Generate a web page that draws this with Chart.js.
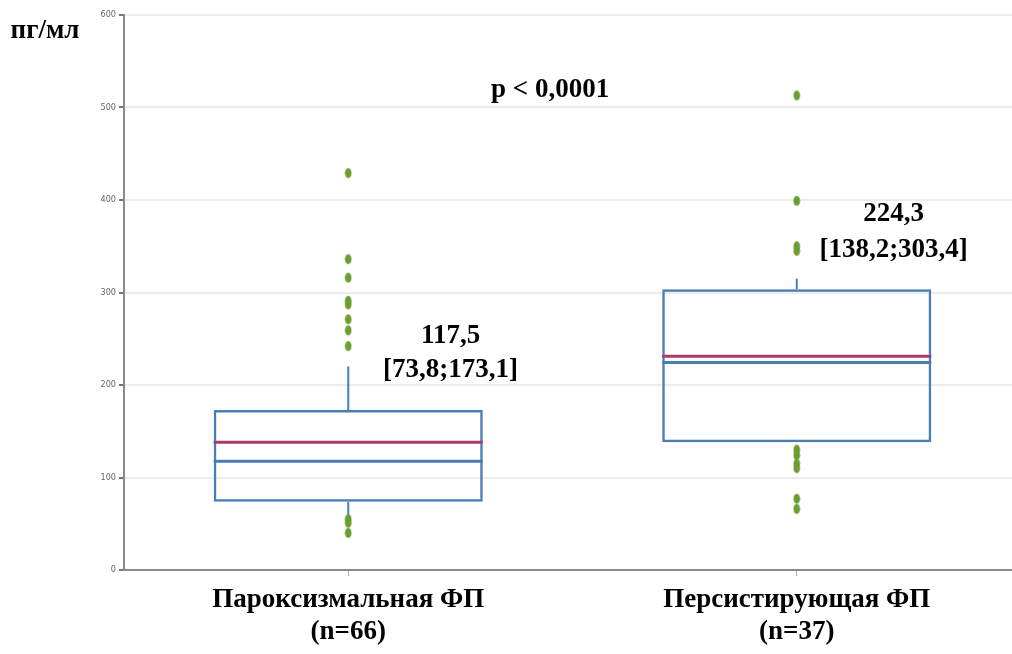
<!DOCTYPE html>
<html>
<head>
<meta charset="utf-8">
<script src="https://cdn.jsdelivr.net/npm/chart.js@4"></script>
<style>
  html, body { margin: 0; padding: 0; background: #fff; overflow: hidden; }
  #wrap { width: 1026px; height: 654px; }
</style>
</head>
<body>
<div id="wrap"><canvas id="boxChart"></canvas></div>
<script>
const categories = [['Пароксизмальная ФП', '(n=66)'], ['Персистирующая ФП', '(n=37)']];
const q1 = [73.8, 138.2];
const median = [117.5, 224.3];
const q3 = [173.1, 303.4];
const mean = [138, 231];
const whiskerLow = [60, 138.2];
const whiskerHigh = [220, 315];
const outliers = [
    [429, 336, 316, 291, 287, 271, 259, 242, 55, 51, 40],
    [513, 399, 350, 345, 130, 124, 115, 110, 77, 66]
];
const yTicks = [0, 100, 200, 300, 400, 500, 600];

const serif = '"Liberation Serif", "Times New Roman", serif';
const boxBlue = '#4b7db5';
const meanColor = '#a83a6c';
const dotGreen = '#6c9d33';

// elongated dot, like in the original
const dot = document.createElement('canvas');
dot.width = 8;
dot.height = 12;
const dctx = dot.getContext('2d');
dctx.fillStyle = dotGreen;
dctx.beginPath();
dctx.ellipse(4, 6, 3.3, 5, 0, 0, Math.PI * 2);
dctx.fill();

const outlierPoints = [];
outliers.forEach((vals, i) => {
    vals.forEach(v => outlierPoints.push({ x: i, y: v }));
});

const boxParts = {
    id: 'boxParts',
    afterDatasetsDraw(chart) {
        const ctx = chart.ctx;
        const y = chart.scales.y;
        const bars = chart.getDatasetMeta(0).data;
        ctx.save();
        bars.forEach((bar, i) => {
            const half = bar.width / 2;
            // whiskers
            ctx.strokeStyle = boxBlue;
            ctx.lineWidth = 2;
            ctx.beginPath();
            ctx.moveTo(bar.x, y.getPixelForValue(q3[i]));
            ctx.lineTo(bar.x, y.getPixelForValue(whiskerHigh[i]));
            ctx.moveTo(bar.x, y.getPixelForValue(q1[i]));
            ctx.lineTo(bar.x, y.getPixelForValue(whiskerLow[i]));
            ctx.stroke();
            // median
            ctx.lineWidth = 3;
            ctx.beginPath();
            ctx.moveTo(bar.x - half, y.getPixelForValue(median[i]));
            ctx.lineTo(bar.x + half, y.getPixelForValue(median[i]));
            ctx.stroke();
            // mean
            ctx.strokeStyle = meanColor;
            ctx.beginPath();
            ctx.moveTo(bar.x - half, y.getPixelForValue(mean[i]));
            ctx.lineTo(bar.x + half, y.getPixelForValue(mean[i]));
            ctx.stroke();
        });
        ctx.restore();
    }
};

const notes = {
    id: 'notes',
    afterDraw(chart) {
        const ctx = chart.ctx;
        const x = chart.scales.x;
        const y = chart.scales.y;
        const step = x.getPixelForValue(1) - x.getPixelForValue(0);
        ctx.save();
        ctx.fillStyle = '#000';
        ctx.font = 'bold 27px ' + serif;
        ctx.textAlign = 'center';
        ctx.textBaseline = 'middle';
        ctx.fillText('пг/мл', 45, 31);
        ctx.fillText('p < 0,0001', x.getPixelForValue(0) + step * 0.45, y.getPixelForValue(519));
        ctx.fillText('117,5', x.getPixelForValue(0) + step * 0.228, y.getPixelForValue(253));
        ctx.fillText('[73,8;173,1]', x.getPixelForValue(0) + step * 0.228, y.getPixelForValue(216));
        ctx.fillText('224,3', x.getPixelForValue(1) + step * 0.216, y.getPixelForValue(385));
        ctx.fillText('[138,2;303,4]', x.getPixelForValue(1) + step * 0.216, y.getPixelForValue(346));
        ctx.restore();
    }
};

const data = {
    labels: categories,
    datasets: [{
        type: 'bar',
        data: categories.map((c, i) => [q1[i], q3[i]]),
        backgroundColor: 'rgba(255,255,255,0)',
        borderColor: boxBlue,
        borderWidth: 2.5,
        borderSkipped: false,
        grouped: false,
        barPercentage: 0.6,
        categoryPercentage: 1,
        order: 2
    }, {
        type: 'scatter',
        xAxisID: 'xPts',
        data: outlierPoints,
        pointStyle: dot,
        order: 1
    }]
};

const options = {
    responsive: true,
    maintainAspectRatio: false,
    animation: false,
    layout: { padding: { top: 15, right: 0, left: 0, bottom: 0 } },
    plugins: {
        legend: { display: false },
        tooltip: { enabled: false }
    },
    scales: {
        x: {
            type: 'category',
            offset: true,
            grid: {
                offset: false,
                drawOnChartArea: false,
                tickLength: 6,
                tickColor: '#aaa'
            },
            border: { color: '#8a8a8a', width: 2 },
            ticks: {
                color: '#000',
                padding: 8,
                maxRotation: 0,
                font: { family: serif, size: 27, weight: 'bold', lineHeight: 1.18 }
            },
            afterFit(scale) { scale.height = 84; }
        },
        // hidden linear axis lined up with the category centres, for the outlier dots
        xPts: {
            type: 'linear',
            position: 'bottom',
            display: false,
            min: -0.5,
            max: 1.5
        },
        y: {
            min: 0,
            max: 600,
            afterBuildTicks(scale) { scale.ticks = yTicks.map(v => ({ value: v })); },
            grid: {
                color: '#ececec',
                lineWidth: 2,
                tickColor: '#777',
                tickLength: 5
            },
            border: { color: '#8a8a8a', width: 2 },
            ticks: {
                color: '#666',
                padding: 3,
                font: { family: '"Liberation Sans Narrow", "DejaVu Sans Condensed", sans-serif', size: 9 }
            },
            afterFit(scale) { scale.width = 124; }
        }
    }
};

new Chart(document.querySelector('#boxChart'), {
    data,
    options,
    plugins: [boxParts, notes]
});
</script>
</body>
</html>
